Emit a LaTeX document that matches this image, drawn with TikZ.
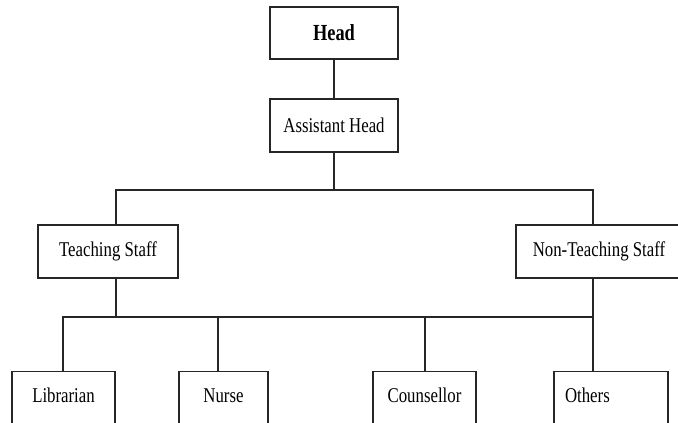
\documentclass[tikz,border=0pt]{standalone}
\usepackage{fontspec}
\setmainfont{Liberation Serif}[FakeStretch=0.8]
\usetikzlibrary{positioning}

\tikzset{
    box/.style={draw=black!85, line width=1.4pt, rectangle, inner sep=0pt, minimum height=53pt},
    leaf/.style={box, anchor=north, inner ysep=15pt, text height=16pt, text depth=40pt, minimum height=0pt},
    conn/.style={draw=black!85, line width=1.4pt}
}

\begin{document}
\begin{tikzpicture}[x=1pt, y=-1pt, font=\fontsize{21}{24}\selectfont]

    % 1. Page frame (pixel grid of the reference)
    \useasboundingbox (0,0) rectangle (678,423);

    % 2. Top of the chart
    \node[box, minimum width=128pt, minimum height=52pt, font=\fontsize{23}{26}\selectfont\bfseries] (head) at (334, 33) {Head};
    \node[box, minimum width=128pt] (asst) at (334, 125.5) {Assistant Head};

    % 3. Staff groups
    \node[box, minimum width=140pt] (teach) at (108, 251.5) {Teaching Staff};
    \node[box, minimum width=166pt] (nonteach) at (599, 251.5) {Non-Teaching Staff};

    % 4. Bottom row (runs past the lower edge)
    \node[leaf, minimum width=103pt] (lib) at (63.5, 371) {Librarian};
    \node[leaf, minimum width=89pt] (nurse) at (223.5, 371) {Nurse};
    \node[leaf, minimum width=103pt] (couns) at (424.5, 371) {Counsellor};
    \node[leaf, minimum width=114pt, inner xsep=11pt, text width=92pt, align=left] (others) at (611, 371) {Others};

    % 5. Where the lines meet the boxes
    \coordinate (topbus) at (334, 190);
    \coordinate (teachin) at (116, 225);
    \coordinate (teachout) at (116, 278);
    \coordinate (ntin) at (593, 225);
    \coordinate (ntout) at (593, 278);
    \coordinate (lowbus) at (116, 317);
    \coordinate (libin) at (63, 371);
    \coordinate (nursein) at (218, 371);
    \coordinate (counsin) at (425, 371);
    \coordinate (othin) at (593, 371);

    % 6. Connectors
    \draw[conn] (head.south) -- (asst.north);
    \draw[conn] (asst.south) -- (topbus);
    \draw[conn] (teachin) |- (topbus) -| (ntin);
    \draw[conn] (teachout) -- (lowbus);
    \draw[conn] (ntout) -- (othin);
    \draw[conn] (libin) |- (othin |- lowbus);
    \draw[conn] (nursein) -- (nursein |- lowbus);
    \draw[conn] (counsin) -- (counsin |- lowbus);

\end{tikzpicture}
\end{document}
